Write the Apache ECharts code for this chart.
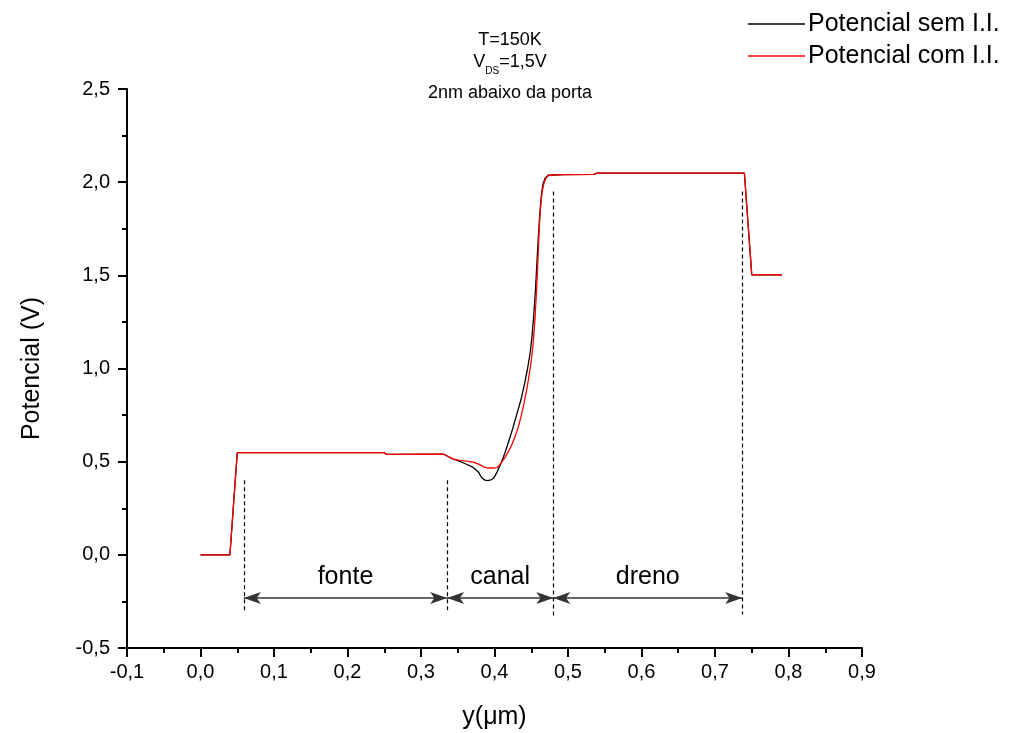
<!DOCTYPE html>
<html>
<head>
<meta charset="utf-8">
<script src="https://cdn.jsdelivr.net/npm/echarts@6/dist/echarts.min.js"></script>
<style>
  html, body { margin: 0; padding: 0; background: #fff; }
  #chart { width: 1015px; height: 733px; }
</style>
</head>
<body>
<div id="chart"></div>
<script>
// Potential 2 nm below the gate along the channel, with and without impact ionisation
const seriesNames = ['Potencial sem I.I.', 'Potencial com I.I.'];

// [y (µm), potential (V)] without impact ionisation
const potencialSemII = [
  [0.000, 0.000], [0.040, 0.000], [0.050, 0.548], [0.250, 0.548], [0.253, 0.539],
  [0.331, 0.540], [0.344, 0.514], [0.353, 0.501], [0.362, 0.486], [0.371, 0.469],
  [0.378, 0.445], [0.383, 0.412], [0.387, 0.401], [0.391, 0.398], [0.395, 0.402],
  [0.399, 0.412], [0.404, 0.448], [0.409, 0.493], [0.414, 0.545], [0.420, 0.618],
  [0.425, 0.680], [0.430, 0.750], [0.436, 0.832], [0.441, 0.920], [0.445, 1.000],
  [0.4485, 1.083], [0.451, 1.170], [0.4535, 1.290], [0.456, 1.440], [0.458, 1.590],
  [0.460, 1.730], [0.462, 1.850], [0.464, 1.940], [0.466, 1.990], [0.469, 2.022],
  [0.473, 2.037], [0.494, 2.040], [0.535, 2.042], [0.540, 2.048], [0.740, 2.048],
  [0.750, 1.503], [0.791, 1.503]
];

// [y (µm), potential (V)] with impact ionisation
const potencialComII = [
  [0.000, 0.000], [0.040, 0.000], [0.050, 0.548], [0.250, 0.548], [0.253, 0.539],
  [0.331, 0.540], [0.344, 0.514], [0.353, 0.507], [0.362, 0.503], [0.371, 0.498],
  [0.380, 0.484], [0.385, 0.472], [0.390, 0.466], [0.398, 0.466], [0.403, 0.468],
  [0.406, 0.478], [0.409, 0.493], [0.414, 0.520], [0.419, 0.555], [0.424, 0.595],
  [0.428, 0.635], [0.432, 0.680], [0.436, 0.740], [0.440, 0.810], [0.444, 0.890],
  [0.447, 0.960], [0.450, 1.040], [0.4525, 1.130], [0.455, 1.260], [0.4575, 1.440],
  [0.4595, 1.620], [0.461, 1.760], [0.463, 1.880], [0.465, 1.950], [0.467, 1.990],
  [0.470, 2.022], [0.474, 2.037], [0.494, 2.040], [0.535, 2.042], [0.540, 2.048],
  [0.740, 2.048], [0.750, 1.503], [0.791, 1.503]
];

// Region boundaries (µm) and the extent of the dashed markers (V)
const regionBounds = [0.059, 0.3355, 0.480, 0.737];
const boundTop = [0.40, 0.40, 1.95, 1.95];
const boundBottom = [-0.31, -0.31, -0.33, -0.32];
const regionNames = ['fonte', 'canal', 'dreno'];
const arrowLevel = -0.232;

const titleLines = ['T=150K', '{a|V}{b|DS}{a|=1,5V}', '2nm abaixo da porta'];

const FONT = "'Liberation Sans', Arial, Helvetica, sans-serif";
const fmt = v => (Math.abs(v) < 1e-9 ? 0 : v).toFixed(1).replace('.', ',');

const boundLines = regionBounds.map((x, i) => [
  { coord: [x, boundTop[i]] },
  { coord: [x, boundBottom[i]] }
]);

const arrowLines = regionNames.map((name, i) => [
  {
    coord: [regionBounds[i], arrowLevel],
    name: name,
    label: {
      show: true, formatter: name, position: 'insideMiddleTop', distance: 8,
      fontSize: 25, fontFamily: FONT, color: '#000'
    }
  },
  { coord: [regionBounds[i + 1], arrowLevel] }
]);

const chart = echarts.init(document.getElementById('chart'), null, { renderer: 'canvas' });

const titleStyle = { fontSize: 18, fontWeight: 'normal', fontFamily: FONT, color: '#000', lineHeight: 20 };

chart.setOption({
  animation: false,
  backgroundColor: '#fff',
  title: [
    { text: titleLines[0], left: 505, top: 25, textAlign: 'center', textStyle: titleStyle },
    { text: titleLines[1], left: 505, top: 48, textAlign: 'center',
      textStyle: Object.assign({}, titleStyle, {
        rich: {
          a: { fontSize: 18, fontFamily: FONT, color: '#000', lineHeight: 20, verticalAlign: 'top' },
          b: { fontSize: 10, fontFamily: FONT, color: '#000', lineHeight: 10, padding: [13, 0, 0, 0], verticalAlign: 'top' }
        }
      }) },
    { text: titleLines[2], left: 505, top: 78, textAlign: 'center', textStyle: titleStyle }
  ],
  legend: {
    data: seriesNames,
    orient: 'vertical',
    left: 743,
    top: 5,
    icon: 'rect',
    itemWidth: 57,
    itemHeight: 1.5,
    itemGap: 4,
    textStyle: { fontSize: 25, fontFamily: FONT, color: '#000', lineHeight: 28, padding: [0, 0, 0, -2] },
    selectedMode: false
  },
  grid: {
    left: 127, right: 153, top: 89, bottom: 85,
    containLabel: false,
    outerBoundsMode: 'none'
  },
  xAxis: {
    type: 'value',
    min: -0.1, max: 0.9, interval: 0.1,
    name: 'y(μm)',
    nameLocation: 'middle',
    nameGap: 57,
    nameTextStyle: { fontSize: 25, fontFamily: FONT, color: '#000' },
    axisLine: { show: true, onZero: false, lineStyle: { color: '#000', width: 2 } },
    axisTick: { show: true, inside: false, length: 9, lineStyle: { color: '#000', width: 2 } },
    minorTick: { show: true, splitNumber: 2, length: 5, lineStyle: { color: '#000', width: 2 } },
    splitLine: { show: false },
    minorSplitLine: { show: false },
    axisLabel: { margin: 14, fontSize: 20, fontFamily: FONT, color: '#000', formatter: fmt }
  },
  yAxis: {
    type: 'value',
    min: -0.5, max: 2.5, interval: 0.5,
    name: 'Potencial (V)',
    nameLocation: 'middle',
    nameGap: 82,
    nameTextStyle: { fontSize: 25, fontFamily: FONT, color: '#000' },
    axisLine: { show: true, onZero: false, lineStyle: { color: '#000', width: 2 } },
    axisTick: { show: true, inside: false, length: 9, lineStyle: { color: '#000', width: 2 } },
    minorTick: { show: true, splitNumber: 2, length: 5, lineStyle: { color: '#000', width: 2 } },
    splitLine: { show: false },
    minorSplitLine: { show: false },
    axisLabel: { margin: 17, fontSize: 20, fontFamily: FONT, color: '#000', formatter: fmt }
  },
  series: [
    {
      name: seriesNames[0],
      type: 'line',
      data: potencialSemII,
      symbol: 'none',
      smooth: false,
      lineStyle: { color: '#000', width: 1.3 },
      itemStyle: { color: '#000' },
      z: 2,
      markLine: {
        silent: true,
        symbol: ['none', 'none'],
        label: { show: false },
        lineStyle: { color: '#000', width: 1.2, type: [4, 3] },
        emphasis: { disabled: true },
        data: boundLines
      }
    },
    {
      name: seriesNames[1],
      type: 'line',
      data: potencialComII,
      symbol: 'none',
      smooth: false,
      lineStyle: { color: '#ff0000', width: 1.3 },
      itemStyle: { color: '#ff0000' },
      z: 3,
      markLine: {
        silent: true,
        symbol: ['arrow', 'arrow'],
        symbolSize: [9, 17],
        label: { show: false },
        lineStyle: { color: '#333', width: 1.5, type: 'solid' },
        itemStyle: { color: '#000' },
        emphasis: { disabled: true },
        data: arrowLines
      }
    }
  ]
});
</script>
</body>
</html>
